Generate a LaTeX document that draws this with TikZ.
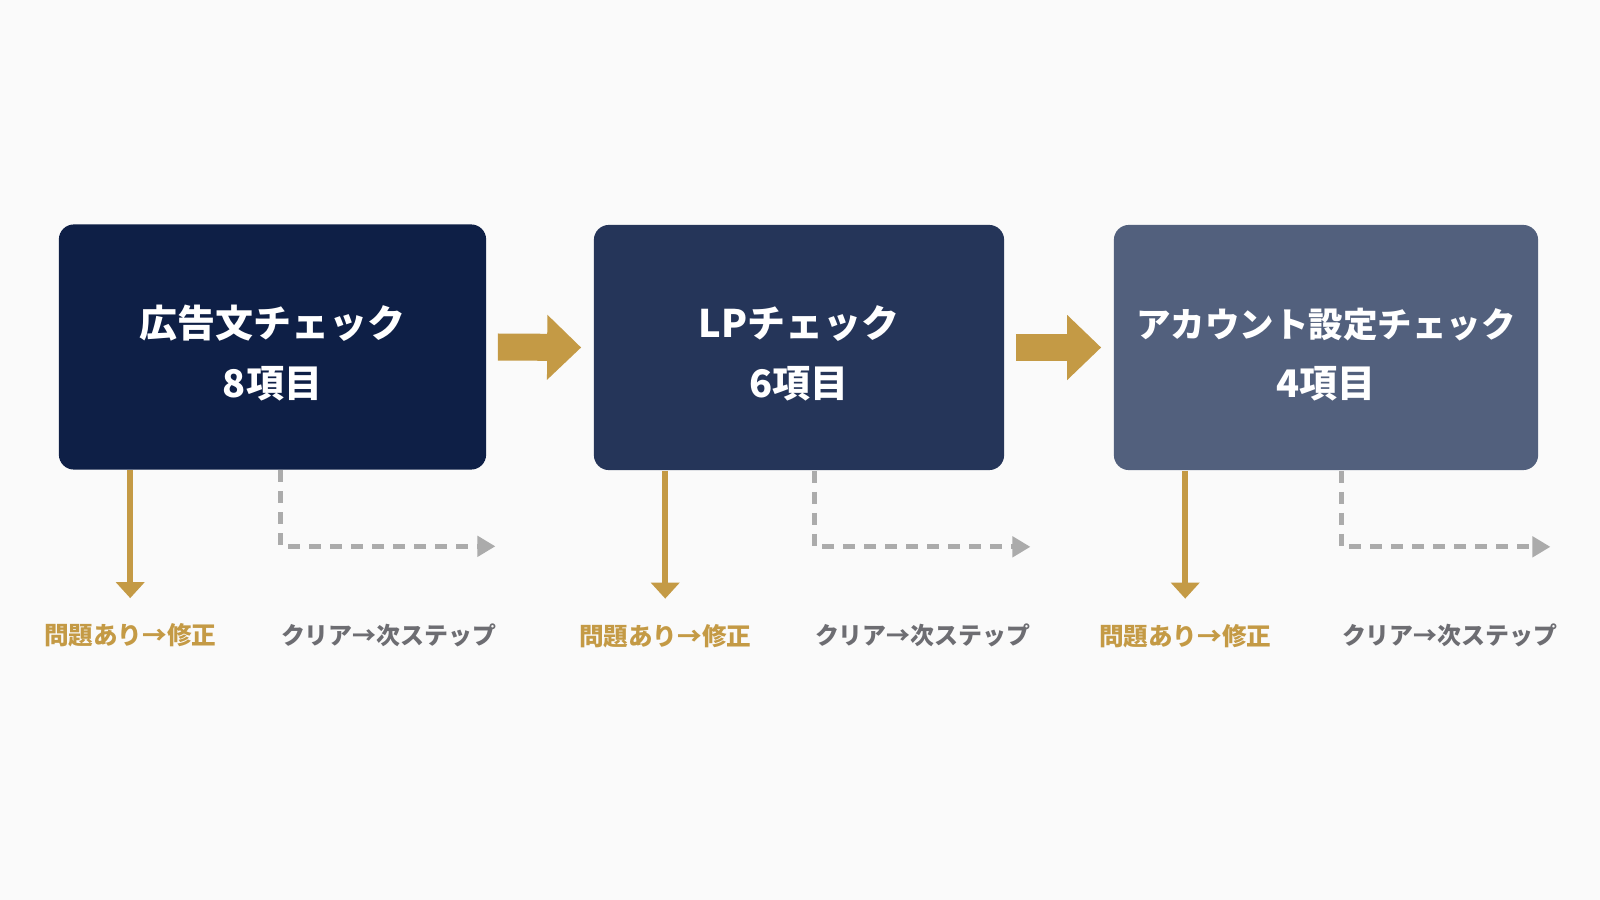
\documentclass[tikz,border=0pt]{standalone}
\usepackage{fontspec}
\setmainfont{Noto Sans CJK JP}
\usetikzlibrary{arrows.meta,calc}
\definecolor{navyA}{HTML}{0E1F46}
\definecolor{navyB}{HTML}{253559}
\definecolor{navyC}{HTML}{52607D}
\definecolor{gold}{HTML}{C49A45}
\definecolor{passgray}{HTML}{ABABAB}
\definecolor{textgray}{HTML}{6D6D72}
\definecolor{paper}{HTML}{FAFAFA}
\tikzset{
  stage/.style={rectangle,rounded corners=0.15cm,text=white,align=center,inner xsep=0pt,
    minimum height=2.45cm,text height=29.5pt,font=\bfseries\fontsize{10.8}{17}\selectfont},
  flow/.style={draw=gold,line width=0.27cm,-{Triangle[length=0.34cm,width=0.63cm]}},
  fixline/.style={draw=gold,line width=0.06cm,-{Triangle[length=0.16cm,width=0.28cm]}},
  passline/.style={draw=passgray,line width=0.05cm,dash pattern=on 0.12cm off 0.09cm,
    -{Triangle[length=0.18cm,width=0.2cm]}},
  fixlabel/.style={text=gold,font=\bfseries\fontsize{7}{8}\selectfont},
  passlabel/.style={text=textgray,anchor=west,inner xsep=0pt,font=\bfseries\fontsize{6.8}{8}\selectfont}
}
\begin{document}
\begin{tikzpicture}[x=0.01cm,y=-0.01cm]
\fill[paper](0,0) rectangle (1600,900);
\useasboundingbox (0,0) rectangle (1600,900);
%stages
\node[stage,fill=navyA,minimum width=4.27cm] (s1) at (272.5,347) {広告文チェック\\8項目};
\node[stage,fill=navyB,minimum width=4.10cm] (s2) at (799,347.5) {LPチェック\\6項目};
\node[stage,fill=navyC,minimum width=4.24cm,font=\bfseries\fontsize{9.8}{17}\selectfont] (s3) at (1326,347.5)
  {アカウント設定チェック\\{\fontsize{10.8}{17}\selectfont 4項目}};
%flow arrows
\draw[flow]([xshift=0.11cm]s1.east)--([xshift=-0.12cm]s2.west);
\draw[flow]([xshift=0.11cm]s2.east)--([xshift=-0.12cm]s3.west);
%branches under each stage
\foreach \s/\d in {s1/2.22,s2/2.21,s3/2.28}
{
\coordinate (\s fix) at ([xshift=0.72cm]\s.south west);
\coordinate (\s pass) at ([xshift=\d cm]\s.south west);
\coordinate (\s passend) at ([xshift=4.37cm,yshift=-0.76cm]\s.south west);
\node[fixlabel] (\s fixtext) at ([yshift=-1.65cm]\s fix) {問題あり→修正};
\node[passlabel] (\s passtext) at ([yshift=-1.65cm]\s pass) {クリア→次ステップ};
\draw[fixline,shorten >=0.13cm](\s fix)--(\s fixtext.north);
\draw[passline](\s pass)|-(\s passend);
}
\end{tikzpicture}
\end{document}
